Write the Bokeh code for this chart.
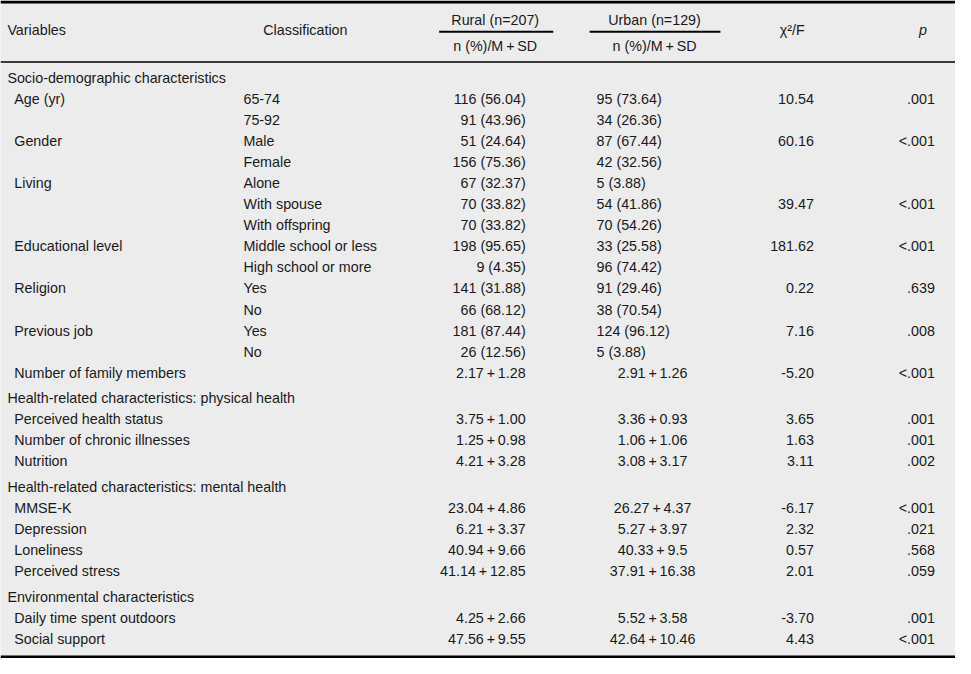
from bokeh.plotting import figure
from bokeh.models import Range1d, ColumnDataSource
from bokeh.core.properties import value
from bokeh.embed import file_html
from bokeh.resources import INLINE

# ---------------- data ----------------
header_cols = ["Variables", "Classification", "Rural (n=207)", "Urban (n=129)", "χ²/F", "p"]
sub_header = "n (%)/M\u2009+\u2009SD"

row_kind = ["section", "item", "item", "item", "item", "item", "item", "item", "item", "item",
            "item", "item", "item", "item", "item",
            "section", "item", "item", "item",
            "section", "item", "item", "item", "item",
            "section", "item", "item"]
variables = ["Socio-demographic characteristics", "Age (yr)", "", "Gender", "", "Living", "", "",
             "Educational level", "", "Religion", "", "Previous job", "", "Number of family members",
             "Health-related characteristics: physical health", "Perceived health status",
             "Number of chronic illnesses", "Nutrition",
             "Health-related characteristics: mental health", "MMSE-K", "Depression", "Loneliness",
             "Perceived stress",
             "Environmental characteristics", "Daily time spent outdoors", "Social support"]
classification = ["", "65-74", "75-92", "Male", "Female", "Alone", "With spouse", "With offspring",
                  "Middle school or less", "High school or more", "Yes", "No", "Yes", "No", "",
                  "", "", "", "",
                  "", "", "", "", "",
                  "", "", ""]
rural = ["", "116 (56.04)", "91 (43.96)", "51 (24.64)", "156 (75.36)", "67 (32.37)", "70 (33.82)",
         "70 (33.82)", "198 (95.65)", "9 (4.35)", "141 (31.88)", "66 (68.12)", "181 (87.44)",
         "26 (12.56)", "2.17+1.28",
         "", "3.75+1.00", "1.25+0.98", "4.21+3.28",
         "", "23.04+4.86", "6.21+3.37", "40.94+9.66", "41.14+12.85",
         "", "4.25+2.66", "47.56+9.55"]
urban = ["", "95 (73.64)", "34 (26.36)", "87 (67.44)", "42 (32.56)", "5 (3.88)", "54 (41.86)",
         "70 (54.26)", "33 (25.58)", "96 (74.42)", "91 (29.46)", "38 (70.54)", "124 (96.12)",
         "5 (3.88)", "2.91+1.26",
         "", "3.36+0.93", "1.06+1.06", "3.08+3.17",
         "", "26.27+4.37", "5.27+3.97", "40.33+9.5", "37.91+16.38",
         "", "5.52+3.58", "42.64+10.46"]
stat = ["", "10.54", "", "60.16", "", "", "39.47", "", "181.62", "", "0.22", "", "7.16", "", "-5.20",
        "", "3.65", "1.63", "3.11",
        "", "-6.17", "2.32", "0.57", "2.01",
        "", "-3.70", "4.43"]
pval = ["", ".001", "", "<.001", "", "", "<.001", "", "<.001", "", ".639", "", ".008", "", "<.001",
        "", ".001", ".001", ".002",
        "", "<.001", ".021", ".568", ".059",
        "", ".001", "<.001"]

# ---------------- layout (reference pixel space) ----------------
W, H = 971, 674
FONT = value("Liberation Sans")
FS = "14.3px"
BG = "#ececec"

def spaced(t):
    return t.replace("+", "\u2009+\u2009")

rural = [spaced(t) for t in rural]
urban = [spaced(t) for t in urban]

ROW0, STEP, SEC_GAP = 79.0, 21.6, 4.4
ys = []
y = ROW0
for i, k in enumerate(row_kind):
    if i > 0:
        y += STEP + (SEC_GAP if k == "section" else 0)
    ys.append(y)

p = figure(width=955, height=658, x_range=Range1d(0, W), y_range=Range1d(H, 0),
           output_backend="svg", toolbar_location=None, min_border=0,
           background_fill_color=BG, border_fill_color=BG, outline_line_color=None)
p.axis.visible = False
p.grid.visible = False

# rules
p.segment(x0=[0, 0, 0], x1=[W, W, W], y0=[1.5, 63, 672.5], y1=[1.5, 63, 672.5],
          line_color="black", line_width=[3, 1.5, 3])
p.segment(x0=[446, 599], x1=[562, 732], y0=[32, 32], y1=[32, 32], line_color="black", line_width=2)

def txt(xs, ys_, texts, align, style="normal"):
    src = ColumnDataSource(dict(x=xs, y=ys_, t=texts))
    p.text(x="x", y="y", text="t", source=src, text_font=FONT, text_font_size=FS,
           text_color="#1a1a1a", text_align=align, text_baseline="middle", text_font_style=style)

# header
txt([7], [30], [header_cols[0]], "left")
txt([310], [30], [header_cols[1]], "center")
txt([503, 665], [20, 20], [header_cols[2], header_cols[3]], "center")
txt([503, 665], [47, 47], [sub_header, sub_header], "center")
txt([805], [30], [header_cols[4]], "center")
txt([938], [30], [header_cols[5]], "center", "italic")

# body
var_x = [7 if k == "section" else 14 for k in row_kind]
txt(var_x, ys, variables, "left")
txt([247] * len(ys), ys, classification, "left")
txt([534] * len(ys), ys, rural, "right")
u_cnt = [(t if "(" in t else "") for t in urban]
u_mean = [(t if "(" not in t else "") for t in urban]
txt([606] * len(ys), ys, u_cnt, "left")
txt([663] * len(ys), ys, u_mean, "center")
txt([827] * len(ys), ys, stat, "right")
txt([950] * len(ys), ys, pval, "right")

open("out.html", "w").write(file_html(p, INLINE))
